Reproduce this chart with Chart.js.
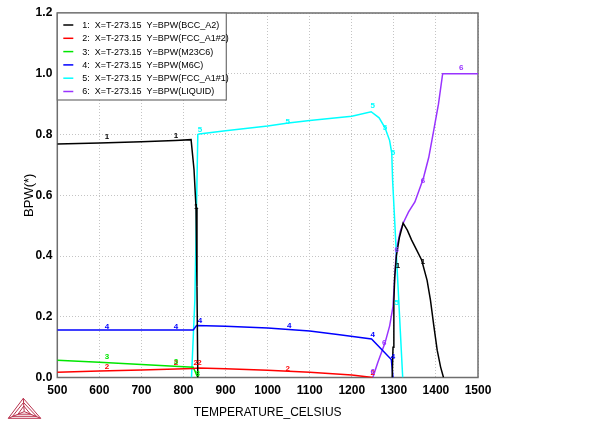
<!DOCTYPE html>
<html>
<head>
<meta charset="utf-8">
<script src="https://cdn.jsdelivr.net/npm/chart.js@4.4.1/dist/chart.umd.min.js"></script>
<style>
  html, body { margin: 0; padding: 0; background: #fff; }
  #wrap { position: relative; width: 600px; height: 429px; }
  #logo { position: absolute; left: 0; top: 375px; }
</style>
</head>
<body>
<div id="wrap">
  <canvas id="chart" width="600" height="429"></canvas>
  <svg id="logo" width="50" height="54" viewBox="0 375 50 54">
    <g fill="none" stroke="#b8304c" stroke-width="1">
      <polygon points="23.3,398.3 8.3,418.3 40.7,418.3"/>
      <polygon points="23.5,402.5 12.5,416.3 36.5,416.3"/>
      <line x1="23.3" y1="398.3" x2="24.2" y2="411.6"/>
      <line x1="8.3" y1="418.3" x2="24.2" y2="411.6"/>
      <line x1="40.7" y1="418.3" x2="24.2" y2="411.6"/>
      <polygon points="23.8,406 18,414.2 30.5,414.2"/>
    </g>
  </svg>
</div>
<script>
// temperatures (Celsius) and BPW values
const bccLowT = [500, 600, 700, 780, 818, 825, 829.7, 832, 834];
const bccLowV = [0.769, 0.772, 0.776, 0.780, 0.783, 0.684, 0.56, 0.30, 0];
const bccHighT = [1296, 1298, 1300, 1302, 1306, 1313, 1322, 1332, 1342, 1354, 1366, 1379, 1387, 1395, 1403, 1411, 1418];
const bccHighV = [0, 0.10, 0.25, 0.33, 0.40, 0.46, 0.508, 0.485, 0.453, 0.42, 0.387, 0.32, 0.255, 0.17, 0.09, 0.035, 0];

const fcc2T = [500, 600, 700, 823, 835, 900, 1000, 1100, 1200, 1250];
const fcc2V = [0.017, 0.021, 0.025, 0.030, 0.031, 0.029, 0.024, 0.017, 0.008, 0];

const m23T = [500, 600, 700, 823, 834];
const m23V = [0.057, 0.050, 0.043, 0.034, 0];

const m6cT = [500, 700, 823, 831, 900, 1000, 1100, 1171, 1247, 1294, 1298];
const m6cV = [0.156, 0.156, 0.156, 0.171, 0.169, 0.163, 0.153, 0.141, 0.127, 0.059, 0];

const fcc1T = [819, 827, 834, 837, 900, 1000, 1049, 1100, 1200, 1246, 1265, 1279, 1290, 1295, 1297, 1321];
const fcc1V = [0, 0.255, 0.80, 0.802, 0.812, 0.828, 0.838, 0.846, 0.86, 0.875, 0.855, 0.822, 0.78, 0.739, 0.65, 0];

const liqT = [1250, 1262, 1279, 1290, 1298, 1302, 1306, 1315, 1322, 1335, 1350, 1370, 1383, 1394, 1406, 1416, 1500];
const liqV = [0, 0.05, 0.114, 0.17, 0.234, 0.33, 0.42, 0.48, 0.508, 0.545, 0.578, 0.655, 0.725, 0.808, 0.9, 1.0, 1.0];

// curve number tags placed along the lines: [T, BPW]
const tags1 = [[618, 0.793], [782, 0.796], [830, 0.562], [1310, 0.368], [1369, 0.381]];
const tags2 = [[618, 0.035], [782, 0.048], [829, 0.048], [838, 0.048], [1048, 0.028], [1250, 0.015]];
const tags3 = [[618, 0.068], [782, 0.051], [834, 0.012]];
const tags4 = [[618, 0.166], [782, 0.166], [839, 0.186], [1051, 0.17], [1250, 0.14], [1298, 0.068]];
const tags5 = [[839, 0.816], [1048, 0.842], [1250, 0.895], [1279, 0.823], [1298, 0.74], [1307, 0.247]];
const tags6 = [[1250, 0.018], [1277, 0.114], [1307, 0.42], [1369, 0.648], [1460, 1.021]];

const legendLabels = [
    '1:  X=T-273.15  Y=BPW(BCC_A2)',
    '2:  X=T-273.15  Y=BPW(FCC_A1#2)',
    '3:  X=T-273.15  Y=BPW(M23C6)',
    '4:  X=T-273.15  Y=BPW(M6C)',
    '5:  X=T-273.15  Y=BPW(FCC_A1#1)',
    '6:  X=T-273.15  Y=BPW(LIQUID)'
];
const colors = ['#000000', '#ff0000', '#00e600', '#0000ff', '#00ffff', '#9933ff'];
const tagSets = [tags1, tags2, tags3, tags4, tags5, tags6];

const pts = (T, V) => T.map((t, i) => ({x: t, y: V[i]}));

function line(data, color) {
    return {
        data,
        borderColor: color,
        borderWidth: 1.5,
        pointRadius: 0,
        fill: false,
        tension: 0
    };
}

// frame round the plot area
const framePlugin = {
    id: 'frame',
    beforeDatasetsDraw(chart) {
        const {ctx, chartArea: a} = chart;
        ctx.save();
        ctx.strokeStyle = '#6e6e6e';
        ctx.lineWidth = 1.5;
        ctx.strokeRect(a.left, a.top, a.right - a.left, a.bottom - a.top);
        ctx.restore();
    }
};

// small curve numbers and the boxed legend
const tagPlugin = {
    id: 'tags',
    afterDatasetsDraw(chart) {
        const {ctx, scales: {x, y}} = chart;
        ctx.save();
        ctx.font = 'bold 8px "Liberation Sans", Arial, sans-serif';
        ctx.textAlign = 'center';
        ctx.textBaseline = 'middle';
        tagSets.forEach((set, k) => {
            ctx.fillStyle = colors[k];
            set.forEach(([t, v]) => ctx.fillText(String(k + 1), x.getPixelForValue(t), y.getPixelForValue(v)));
        });

        // legend box
        const a = chart.chartArea;
        const bx = a.left, by = a.top, bw = 169, bh = 87;
        ctx.fillStyle = '#ffffff';
        ctx.fillRect(bx, by, bw, bh);
        ctx.strokeStyle = '#6e6e6e';
        ctx.lineWidth = 1.2;
        ctx.strokeRect(bx, by, bw, bh);
        ctx.font = '9px "Liberation Sans", Arial, sans-serif';
        ctx.textAlign = 'left';
        legendLabels.forEach((txt, i) => {
            const ry = by + 12 + i * 13.3;
            ctx.strokeStyle = colors[i];
            ctx.lineWidth = 1.5;
            ctx.beginPath();
            ctx.moveTo(bx + 6, ry);
            ctx.lineTo(bx + 16, ry);
            ctx.stroke();
            ctx.fillStyle = '#000';
            ctx.fillText(txt, bx + 25, ry + 0.5);
        });
        ctx.restore();
    }
};

const tickFont = {family: '"Liberation Sans", Arial, sans-serif', size: 12, weight: 'bold'};
const titleFont = {family: '"Liberation Sans", Arial, sans-serif', size: 12};

new Chart(document.getElementById('chart'), {
    type: 'line',
    data: {
        datasets: [
            line(pts(bccLowT, bccLowV), colors[0]),
            line(pts(bccHighT, bccHighV), colors[0]),
            line(pts(fcc2T, fcc2V), colors[1]),
            line(pts(m23T, m23V), colors[2]),
            line(pts(m6cT, m6cV), colors[3]),
            line(pts(fcc1T, fcc1V), colors[4]),
            line(pts(liqT, liqV), colors[5])
        ]
    },
    options: {
        responsive: false,
        animation: false,
        devicePixelRatio: 1,
        layout: {padding: {left: 0, right: 122, top: 13, bottom: 0}},
        plugins: {
            legend: {display: false},
            tooltip: {enabled: false}
        },
        scales: {
            x: {
                type: 'linear',
                min: 500,
                max: 1500,
                ticks: {stepSize: 100, font: tickFont, color: '#000', padding: 6, maxRotation: 0, callback: v => String(v)},
                grid: {color: '#c4c4c4', lineWidth: 1, drawTicks: false},
                border: {display: false, dash: [1, 2]},
                title: {display: true, text: 'TEMPERATURE_CELSIUS', font: titleFont, color: '#000', padding: {top: 0, bottom: 9}},
                afterFit(scale) { scale.height = 51.5; }
            },
            y: {
                min: 0,
                max: 1.2,
                ticks: {stepSize: 0.2, font: tickFont, color: '#000', padding: 5, callback: v => v.toFixed(1)},
                grid: {color: '#c4c4c4', lineWidth: 1, drawTicks: false},
                border: {display: false, dash: [1, 2]},
                title: {display: true, text: 'BPW(*)', font: {family: '"Liberation Sans", Arial, sans-serif', size: 13}, color: '#000', padding: {top: 22, bottom: 0}},
                afterFit(scale) { scale.width = 57.3; }
            }
        }
    },
    plugins: [framePlugin, tagPlugin]
});
</script>
</body>
</html>
